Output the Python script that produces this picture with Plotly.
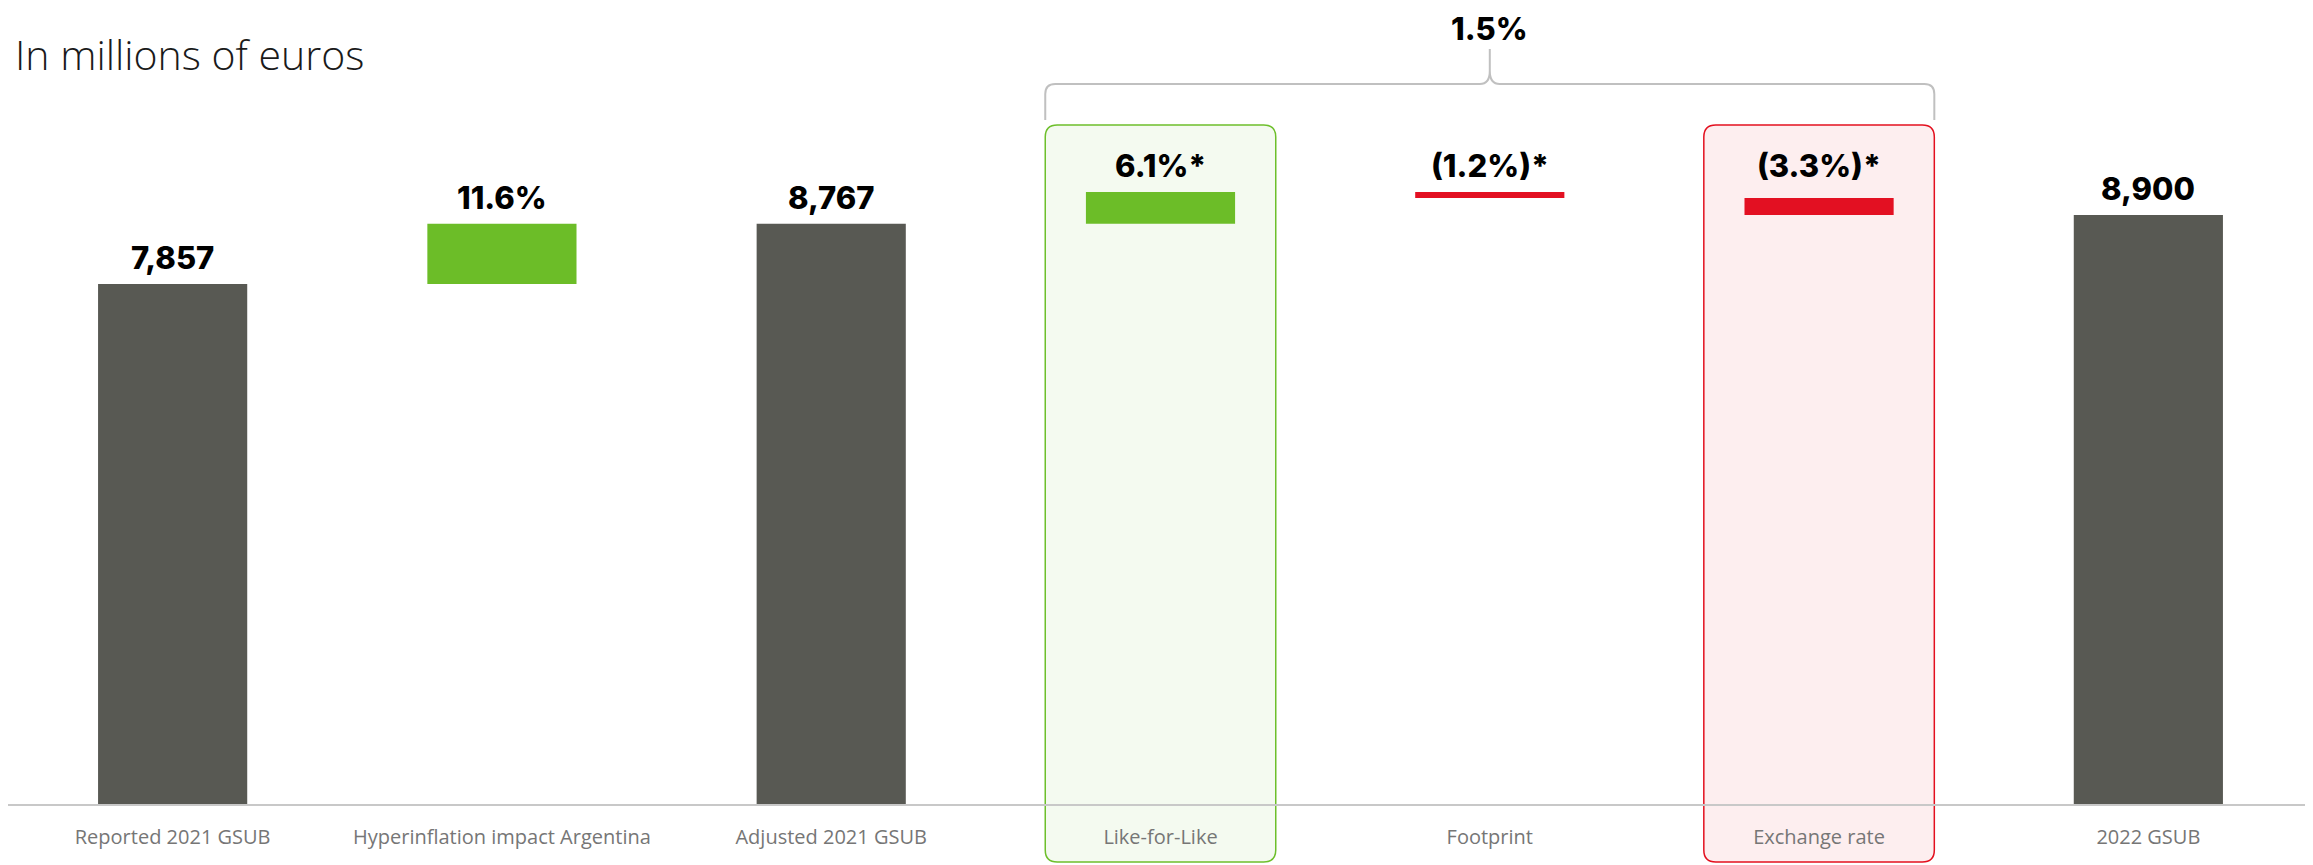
import plotly.graph_objects as go

# ---- data ----
categories = ["Reported 2021 GSUB", "Hyperinflation impact Argentina", "Adjusted 2021 GSUB",
              "Like-for-Like", "Footprint", "Exchange rate", "2022 GSUB"]
measures = ["absolute", "relative", "total", "relative", "relative", "relative", "total"]
amounts = [7857, 910, 8767, 480, -90, -257, 8900]
labels = ["7,857", "11.6%", "8,767", "6.1%*", "(1.2%)*", "(3.3%)*", "8,900"]
group_label = "1.5%"
group_first, group_last = 3, 5          # Like-for-Like .. Exchange rate
highlight_boxes = [(3, "#6DBF2B", "#F4FAF0"), (5, "#E3101F", "#FDEEEF")]

# ---- style ----
OFF = 8                      # page body margin
W, H = 2313 - OFF, 865 - OFF
ML, MR, MT, MB = 0, 0, 0, 61
PLOT_H = H - MT - MB
PLOT_W = W - ML - MR
YMAX = 12028
DARK, GREEN, RED = "#585953", "#6CBD28", "#E31022"
VAL_FONT = dict(family="Inter, DejaVu Sans, sans-serif", size=31, color="#000000", weight=800)

# label anchor positions computed from the waterfall levels
running = 0
label_y = []
run_max = 0
for m, a in zip(measures, amounts):
    if m == "absolute":
        running = a
        run_max = a
        label_y.append(a)
    elif m == "total":
        run_max = running
        label_y.append(running)
    else:
        running += a
        run_max = max(run_max, running)
        label_y.append(run_max)

fig = go.Figure(go.Waterfall(
    x=categories,
    y=amounts,
    measure=measures,
    totals=dict(marker=dict(color=DARK, line=dict(width=0))),
    increasing=dict(marker=dict(color=GREEN, line=dict(width=0))),
    decreasing=dict(marker=dict(color=RED, line=dict(width=0))),
    connector=dict(visible=False),
    textinfo="none",
    hoverinfo="skip",
))

annotations = []
for c, t, yv in zip(categories, labels, label_y):
    annotations.append(dict(x=c, y=yv, xref="x", yref="y", text=t, showarrow=False,
                            yanchor="bottom", yshift=6, font=VAL_FONT))

def py2p(page_py):
    """page pixel row -> paper y"""
    fy = page_py - OFF
    return (MT + PLOT_H - fy) / PLOT_H

xunit = PLOT_W / len(categories)

annotations.append(dict(x=categories[(group_first + group_last) // 2], y=py2p(29), xref="x", yref="paper",
                        text=group_label, showarrow=False, yanchor="middle", borderpad=0,
                        font=VAL_FONT))

shapes = []
# highlight boxes with rounded corners
half = 0.35
r = 12
rx, ry = r / xunit, r / PLOT_H
yt, yb = py2p(125), py2p(862)
for i, line_c, fill_c in highlight_boxes:
    x0, x1 = i - half, i + half
    path = (f"M {x0+rx},{yt} L {x1-rx},{yt} Q {x1},{yt} {x1},{yt-ry} L {x1},{yb+ry} "
            f"Q {x1},{yb} {x1-rx},{yb} L {x0+rx},{yb} Q {x0},{yb} {x0},{yb+ry} "
            f"L {x0},{yt-ry} Q {x0},{yt} {x0+rx},{yt} Z")
    shapes.append(dict(type="path", path=path, xref="x", yref="paper", layer="below",
                       fillcolor=fill_c, line=dict(color=line_c, width=1.5)))

# brace over the group
xl, xr = group_first - half, group_last + half
xc = (group_first + group_last) / 2
yend, yh, ytop = py2p(120), py2p(84), py2p(49)
br = 10
bx, by = br / xunit, br / PLOT_H
ystem = yh + by * 1.3
brace = (f"M {xl},{yend} L {xl},{yh-by} Q {xl},{yh} {xl+bx},{yh} L {xc-bx},{yh} "
         f"Q {xc},{yh} {xc},{ystem} L {xc},{ytop} M {xc},{ystem} Q {xc},{yh} {xc+bx},{yh} "
         f"L {xr-bx},{yh} Q {xr},{yh} {xr},{yh-by} L {xr},{yend}")
shapes.append(dict(type="path", path=brace, xref="x", yref="paper", layer="above",
                   line=dict(color="#C0C0C0", width=2)))

fig.update_layout(
    width=W, height=H,
    margin=dict(l=ML, r=MR, t=MT, b=MB),
    paper_bgcolor="white", plot_bgcolor="rgba(0,0,0,0)",
    waterfallgap=0.547,
    showlegend=False,
    title=dict(text="In millions of euros", x=(15 - OFF) / W, xref="container", xanchor="left",
               y=1 - (56 - OFF) / H, yref="container", yanchor="middle",
               font=dict(family="Open Sans, sans-serif", size=41, color="#1A1A1A", weight=300)),
    xaxis=dict(showline=True, linecolor="#C8C8C8", linewidth=2, ticks="", showgrid=False,
               tickfont=dict(family="Open Sans, sans-serif", size=20, color="#767676"),
               ticklabelstandoff=14, fixedrange=True),
    yaxis=dict(range=[0, YMAX], visible=False, showgrid=False, zeroline=False, fixedrange=True),
    annotations=annotations,
    shapes=shapes,
)

fig.write_html("out.html")
